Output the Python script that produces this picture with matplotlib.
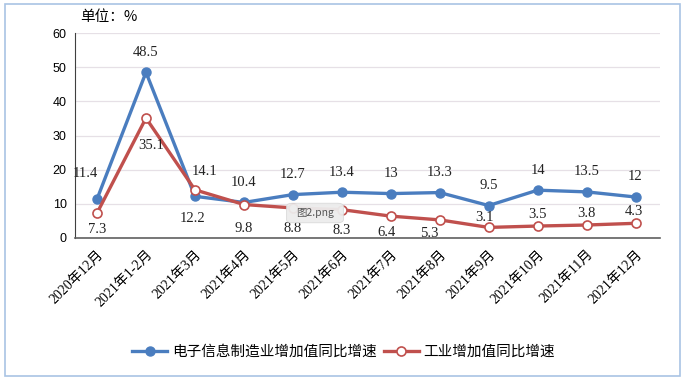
import matplotlib
matplotlib.use("Agg")
import matplotlib.pyplot as plt
from matplotlib.patches import FancyBboxPatch, Rectangle

plt.rcParams['font.family'] = ['Liberation Serif', 'Noto Sans CJK SC', 'DejaVu Sans']

categories = ["2020年12月", "2021年1-2月", "2021年3月", "2021年4月", "2021年5月", "2021年6月",
              "2021年7月", "2021年8月", "2021年9月", "2021年10月", "2021年11月", "2021年12月"]
electronics = [11.4, 48.5, 12.2, 10.4, 12.7, 13.4, 13, 13.3, 9.5, 14, 13.5, 12]
industry = [7.3, 35.1, 14.1, 9.8, 8.8, 8.3, 6.4, 5.3, 3.1, 3.5, 3.8, 4.3]
elec_labels = ["11.4", "48.5", "12.2", "10.4", "12.7", "13.4", "13", "13.3", "9.5", "14", "13.5", "12"]
ind_labels = ["7.3", "35.1", "14.1", "9.8", "8.8", "8.3", "6.4", "5.3", "3.1", "3.5", "3.8", "4.3"]
yticks = [0, 10, 20, 30, 40, 50, 60]

blue = "#4a7dbf"
red = "#c0504d"

fig = plt.figure(figsize=(6.87, 3.8), dpi=100)
fig.patches.append(Rectangle((5/687, 4/380), 675/687, 372/380, transform=fig.transFigure,
                             fill=False, edgecolor="#a9c4e4", linewidth=1.2))
ax = fig.add_axes([75/687, 1-238/380, (660-75)/687, (238-33)/380])

x = list(range(len(categories)))
ax.plot(x, electronics, color=blue, linewidth=2.4, marker='o', markersize=6.5,
        markerfacecolor=blue, markeredgecolor=blue, zorder=3, label="电子信息制造业增加值同比增速")
ax.plot(x, industry, color=red, linewidth=2.4, marker='o', markersize=6.5,
        markerfacecolor='white', markeredgecolor=red, markeredgewidth=1.2, zorder=4,
        label="工业增加值同比增速")

ax.set_xlim(-0.45, 11.5)
ax.set_ylim(0, 60)
ax.set_yticks(yticks)
ax.set_yticklabels([str(v) for v in yticks], family=['Liberation Sans'], fontsize=9)
ax.yaxis.grid(True, color="#e6e0e6", linewidth=0.9)
ax.set_axisbelow(True)
ax.tick_params(axis='both', length=0, pad=6)
ax.set_xticks(x)
ax.set_xticklabels(categories, rotation=45, ha='right', va='top', rotation_mode='anchor', fontsize=10)
ax.tick_params(axis='x', pad=7)
for s in ['top', 'right']:
    ax.spines[s].set_visible(False)
ax.spines['left'].set_color("#404040")
ax.spines['bottom'].set_color("#606060")
ax.spines['bottom'].set_linewidth(1.2)

# label offsets in pixels
elec_off = [(-12, 26), (0, 20), (-2, -22), (0, 20), (0, 20), (0, 20), (0, 20), (0, 20), (0, 20), (0, 20), (0, 20), (0, 20)]
ind_off = [(0, -16), (5, -27), (10, 18), (0, -24), (0, -21), (0, -21), (-4, -16), (-10, -14), (-4, 10), (0, 12), (0, 12), (-2, 12)]
for i in x:
    ax.annotate(elec_labels[i], (i, electronics[i]), xytext=elec_off[i], textcoords='offset pixels',
                ha='center', va='center', fontsize=10.5, color="#222222", zorder=5)
    ax.annotate(ind_labels[i], (i, industry[i]), xytext=ind_off[i], textcoords='offset pixels',
                ha='center', va='center', fontsize=10.5, color="#222222", zorder=5)

fig.text(80/687, 1-17/380, "单位：%", family=['Noto Sans CJK SC'], fontsize=10.5, va='center', ha='left')

leg = fig.legend(loc='center', bbox_to_anchor=(0.5, 1-352/380), ncol=2, frameon=False,
                 prop={'family': 'Noto Sans CJK SC', 'size': 10.5}, handlelength=2.4,
                 columnspacing=0.5, handletextpad=0.3)

# tooltip overlay
fig.patches.append(FancyBboxPatch((288/687, 1-222/380), 54/687, 18/380, transform=fig.transFigure,
                                  boxstyle="round,pad=0.002,rounding_size=0.008",
                                  facecolor="#ececec", edgecolor="#d8d8d8", linewidth=0.6, alpha=0.95, zorder=10))
fig.text(315/687, 1-213/380, "图2.png", family=['Noto Sans CJK SC'], fontsize=7.5, color="#555555",
         ha='center', va='center', zorder=11)

fig.savefig("out.png", dpi=100)
